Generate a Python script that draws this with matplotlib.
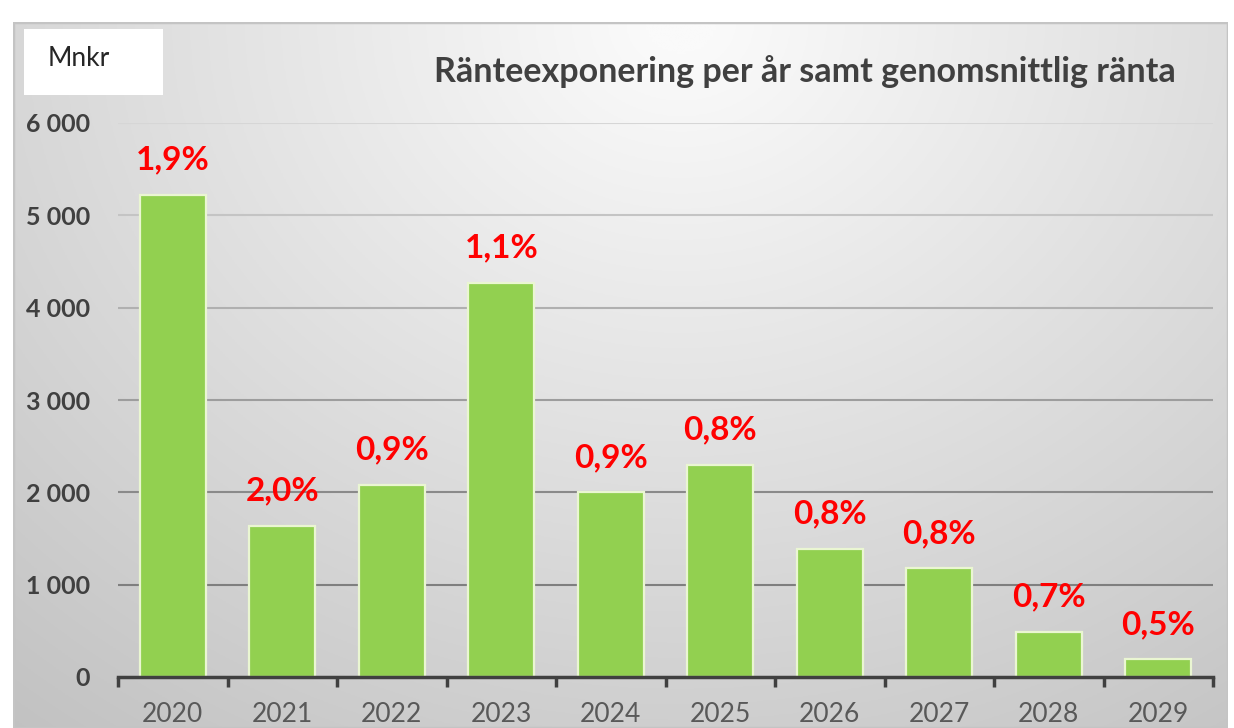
import numpy as np
import matplotlib
matplotlib.use("Agg")
import matplotlib.pyplot as plt
from matplotlib.patches import Rectangle
from matplotlib.ticker import FuncFormatter, FixedLocator

# ---- data ----
years = ["2020", "2021", "2022", "2023", "2024", "2025", "2026", "2027", "2028", "2029"]
exposure = [5220, 1640, 2080, 4270, 2000, 2300, 1390, 1180, 490, 190]  # Mnkr
rates = [1.9, 2.0, 0.9, 1.1, 0.9, 0.8, 0.8, 0.8, 0.7, 0.5]  # %
y_ticks = [0, 1000, 2000, 3000, 4000, 5000, 6000]
title = "Ränteexponering per år samt genomsnittlig ränta"
unit = "Mnkr"

W, H = 1234, 728
fig = plt.figure(figsize=(W / 100, H / 100), dpi=100)
fig.patch.set_facecolor("white")

# ---- background panel with radial gradient ----
bx0, bx1, by_top = 13, 1228, 22
bg = fig.add_axes([bx0 / W, 0, (bx1 - bx0) / W, (H - by_top) / H])
bg.set_axis_off()
nu, nv = 400, 300
u = np.linspace(0, 1, nu)[None, :]
v = np.linspace(0, 1, nv)[:, None]
r = np.sqrt(((u - 0.55) / 0.75) ** 2 + (v / 1.1) ** 2)
val = np.clip(252 - 50 * r, 180, 250) / 255.0
img = np.dstack([val, val, val])
bg.imshow(img, extent=[0, 1, 0, 1], aspect="auto", origin="upper")
bg.set_xlim(0, 1)
bg.set_ylim(0, 1)
bg.add_patch(Rectangle((0, 0), 1, 1, transform=bg.transAxes, fill=False,
                       edgecolor="#c4c4c4", linewidth=2.5))

# ---- unit box ----
fig.patches.append(Rectangle((24 / W, 1 - 95 / H), (163 - 24) / W, (95 - 29) / H,
                             transform=fig.transFigure, facecolor="white",
                             edgecolor="none", zorder=2))
fig.text(48 / W, 1 - 58 / H, unit, fontsize=19, family="Lato", color="#262626",
         ha="left", va="center", zorder=3)

# ---- title ----
fig.text(1176 / W, 1 - 82 / H, title, fontsize=24.5, family="Lato", fontweight="bold",
         color="#404040", ha="right", va="baseline")

# ---- main axes ----
ax0, ax1, y0, y6 = 118, 1213, 677, 123
ax = fig.add_axes([ax0 / W, (H - y0) / H, (ax1 - ax0) / W, (y0 - y6) / H])
ax.patch.set_alpha(0)

x = np.arange(len(years))
bars = ax.bar(x, exposure, width=0.6, color="#92d050", edgecolor="#eaf6d2",
              linewidth=1.6, zorder=3)

for xi, val_, rt in zip(x, exposure, rates):
    ax.annotate(f"{rt:.1f}%".replace(".", ","), (xi, val_), xytext=(0, 25),
                textcoords="offset points", ha="center", va="center",
                fontsize=24, family="Lato", fontweight="bold", color="#ff0000",
                zorder=4)

ax.set_xlim(-0.5, len(years) - 0.5)
ax.set_ylim(0, 6000)
ax.yaxis.set_major_locator(FixedLocator(y_ticks))
ax.yaxis.set_major_formatter(FuncFormatter(lambda val_, p: f"{val_:,.0f}".replace(",", " ")))
ax.grid(axis="y", linewidth=1.5, zorder=1)
grid_cols = ["none", "#7f7f7f", "#8a8a8a", "#9d9d9d", "#b0b0b0", "#c4c4c4", "#d6d6d6"]
for gl, c in zip(ax.get_ygridlines(), grid_cols):
    gl.set_color(c)

ax.set_xticks(x)
ax.set_xticklabels(years)
ax.set_xticks(np.arange(-0.5, len(years), 1.0), minor=True)
ax.tick_params(axis="x", which="major", length=0, pad=18, labelsize=19,
               labelcolor="#595959")
ax.tick_params(axis="x", which="minor", length=7, width=2.5, color="#404040",
               direction="out")
ax.tick_params(axis="y", length=0, pad=20, labelsize=18, labelcolor="#404040")
for lab in ax.get_yticklabels():
    lab.set_fontweight("bold")
    lab.set_family("Lato")
for lab in ax.get_xticklabels():
    lab.set_family("Lato")

for s in ["top", "right", "left"]:
    ax.spines[s].set_visible(False)
ax.spines["bottom"].set_color("#404040")
ax.spines["bottom"].set_linewidth(2.5)
ax.spines["bottom"].set_zorder(5)

fig.savefig("out.png", dpi=100)
